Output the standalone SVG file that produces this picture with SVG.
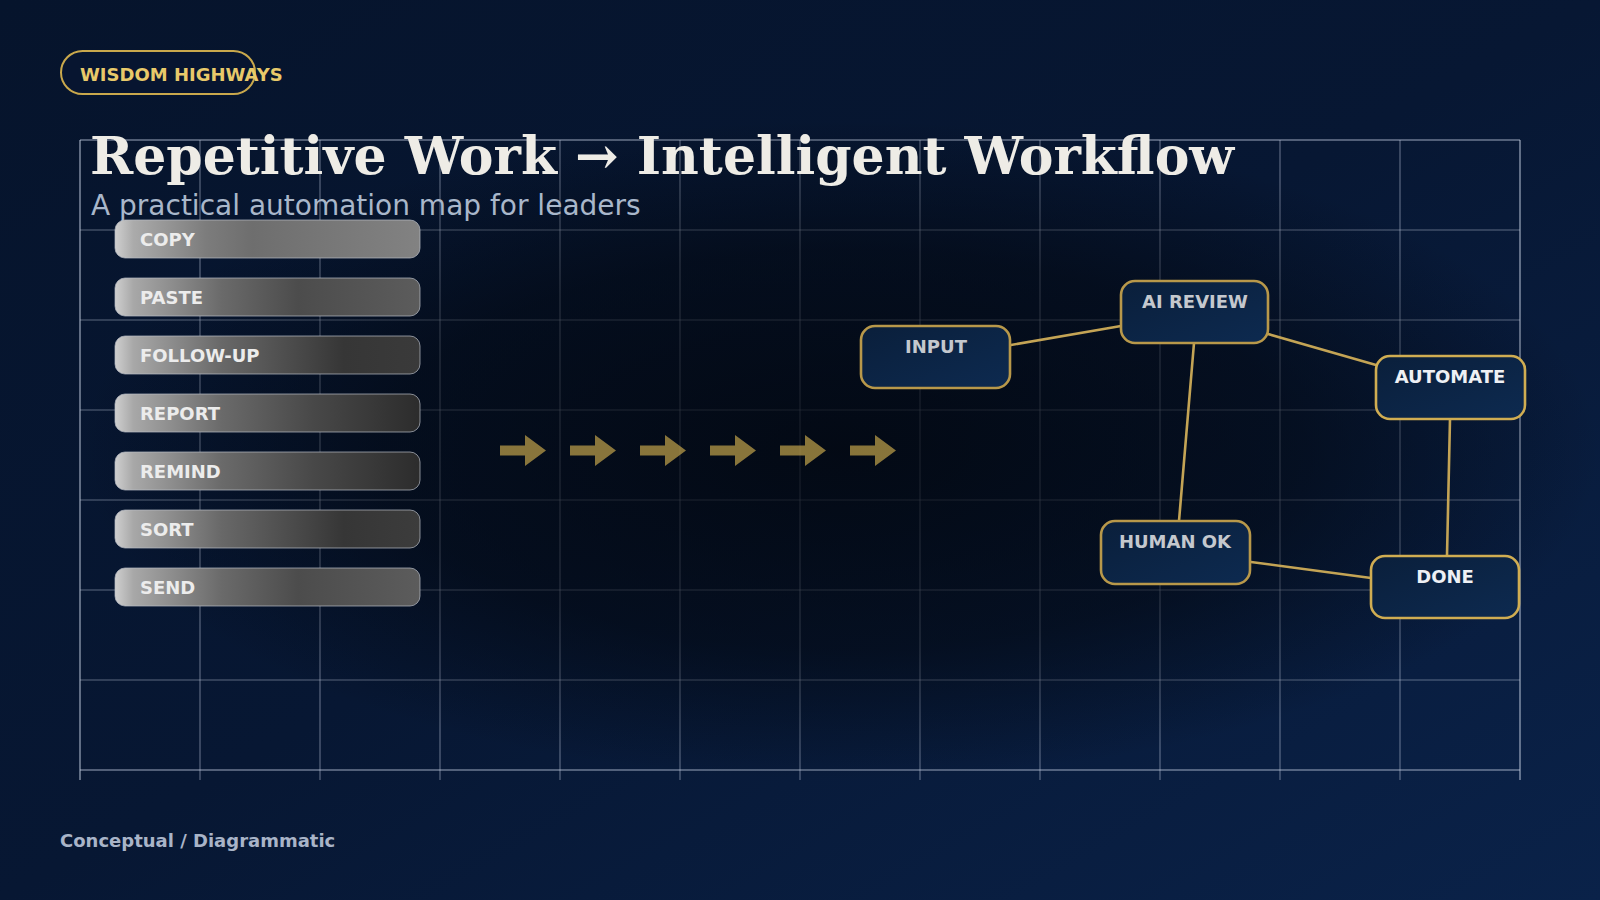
<svg xmlns="http://www.w3.org/2000/svg" width="1600" height="900" viewBox="0 0 1600 900">
<defs>
<linearGradient id="bg" x1="0" y1="0" x2="1" y2="1">
<stop offset="0" stop-color="#06142c"/>
<stop offset="0.5" stop-color="#071733"/>
<stop offset="1" stop-color="#0a2249"/>
</linearGradient>
<radialGradient id="vig" cx="0.5" cy="0.5" r="0.5">
<stop offset="0" stop-color="#02060d" stop-opacity="0.8"/>
<stop offset="0.6" stop-color="#02060d" stop-opacity="0.55"/>
<stop offset="1" stop-color="#02060d" stop-opacity="0"/>
</radialGradient>
<linearGradient id="nodeFill" x1="0" y1="0" x2="1" y2="1">
<stop offset="0" stop-color="#0a1f3b"/>
<stop offset="1" stop-color="#0d2a50"/>
</linearGradient>
<linearGradient id="g1" x1="0" y1="0" x2="1" y2="0"><stop offset="0" stop-color="#cfcfcf"/><stop offset="0.06" stop-color="#ababab"/><stop offset="0.3" stop-color="#7c7c7c"/><stop offset="0.45" stop-color="#6e6e6e"/><stop offset="1" stop-color="#828282"/></linearGradient>
<linearGradient id="g2" x1="0" y1="0" x2="1" y2="0"><stop offset="0" stop-color="#cfcfcf"/><stop offset="0.06" stop-color="#a8a8a8"/><stop offset="0.35" stop-color="#6a6a6a"/><stop offset="0.6" stop-color="#4c4c4c"/><stop offset="1" stop-color="#5c5c5c"/></linearGradient>
<linearGradient id="g3" x1="0" y1="0" x2="1" y2="0"><stop offset="0" stop-color="#cfcfcf"/><stop offset="0.06" stop-color="#a8a8a8"/><stop offset="0.35" stop-color="#686868"/><stop offset="0.75" stop-color="#363636"/><stop offset="1" stop-color="#3a3a3a"/></linearGradient>
<linearGradient id="g4" x1="0" y1="0" x2="1" y2="0"><stop offset="0" stop-color="#cfcfcf"/><stop offset="0.06" stop-color="#a8a8a8"/><stop offset="0.35" stop-color="#6a6a6a"/><stop offset="0.65" stop-color="#484848"/><stop offset="1" stop-color="#2c2c2c"/></linearGradient>
<linearGradient id="g6" x1="0" y1="0" x2="1" y2="0"><stop offset="0" stop-color="#cfcfcf"/><stop offset="0.06" stop-color="#a8a8a8"/><stop offset="0.35" stop-color="#686868"/><stop offset="0.75" stop-color="#363636"/><stop offset="1" stop-color="#3c3c3c"/></linearGradient>
<path id="arrow" d="M0,-5 L25,-5 L25,-15.5 L46,0 L25,15.5 L25,5 L0,5 Z"/>
</defs>
<style>
.grid line{stroke:#c3cde0;stroke-opacity:0.45;stroke-width:1.2}
.grid .edge{stroke-opacity:0.8}
.pill rect{stroke:#b8bcc4;stroke-opacity:0.7;stroke-width:1}
.pill text{font-family:"DejaVu Sans",sans-serif;font-weight:bold;font-size:18px;fill:#ececec}
.node rect{fill:url(#nodeFill);stroke:#b8984a;stroke-width:2.6}
.node.hi rect{stroke:#d0ad52}
.node text{font-family:"DejaVu Sans",sans-serif;font-weight:bold;font-size:18px;text-anchor:middle;fill:#c4c8ce}
.node.hi text{fill:#eef0f4}
.conn line{stroke:#c4a455;stroke-width:2.6;stroke-linecap:round}
.arr use{fill:#c9a84c;fill-opacity:0.68}
</style>
<rect width="1600" height="900" fill="url(#bg)"/>
<g class="grid">
<line class="edge" x1="80" y1="140" x2="1520" y2="140"/>
<line x1="80" y1="230" x2="1520" y2="230"/>
<line x1="80" y1="320" x2="1520" y2="320"/>
<line x1="80" y1="410" x2="1520" y2="410"/>
<line x1="80" y1="500" x2="1520" y2="500"/>
<line x1="80" y1="590" x2="1520" y2="590"/>
<line x1="80" y1="680" x2="1520" y2="680"/>
<line class="edge" x1="80" y1="770" x2="1520" y2="770"/>
<line class="edge" x1="80" y1="140" x2="80" y2="780"/>
<line x1="200" y1="140" x2="200" y2="780"/>
<line x1="320" y1="140" x2="320" y2="780"/>
<line x1="440" y1="140" x2="440" y2="780"/>
<line x1="560" y1="140" x2="560" y2="780"/>
<line x1="680" y1="140" x2="680" y2="780"/>
<line x1="800" y1="140" x2="800" y2="780"/>
<line x1="920" y1="140" x2="920" y2="780"/>
<line x1="1040" y1="140" x2="1040" y2="780"/>
<line x1="1160" y1="140" x2="1160" y2="780"/>
<line x1="1280" y1="140" x2="1280" y2="780"/>
<line x1="1400" y1="140" x2="1400" y2="780"/>
<line class="edge" x1="1520" y1="140" x2="1520" y2="780"/>
</g>
<ellipse cx="840" cy="450" rx="760" ry="330" fill="url(#vig)"/>
<g id="badge">
<rect x="61" y="51" width="194" height="43" rx="21.5" fill="#071530" stroke="#c9a84c" stroke-width="2"/>
<text x="80" y="81" font-family="DejaVu Sans, sans-serif" font-weight="bold" font-size="18" fill="#e8c96a">WISDOM HIGHWAYS</text>
</g>
<text x="90" y="174" font-family="DejaVu Serif, serif" font-weight="bold" font-size="52" fill="#eeece6">Repetitive Work → Intelligent Workflow</text>
<text x="91" y="215" font-family="DejaVu Sans, sans-serif" font-size="28" fill="#a9b7ca">A practical automation map for leaders</text>
<g class="pill" id="p-copy"><rect x="115" y="220" width="305" height="38" rx="10" fill="url(#g1)"/><text x="140" y="246">COPY</text></g>
<g class="pill" id="p-paste"><rect x="115" y="278" width="305" height="38" rx="10" fill="url(#g2)"/><text x="140" y="304">PASTE</text></g>
<g class="pill" id="p-follow"><rect x="115" y="336" width="305" height="38" rx="10" fill="url(#g3)"/><text x="140" y="362">FOLLOW-UP</text></g>
<g class="pill" id="p-report"><rect x="115" y="394" width="305" height="38" rx="10" fill="url(#g4)"/><text x="140" y="420">REPORT</text></g>
<g class="pill" id="p-remind"><rect x="115" y="452" width="305" height="38" rx="10" fill="url(#g4)"/><text x="140" y="478">REMIND</text></g>
<g class="pill" id="p-sort"><rect x="115" y="510" width="305" height="38" rx="10" fill="url(#g6)"/><text x="140" y="536">SORT</text></g>
<g class="pill" id="p-send"><rect x="115" y="568" width="305" height="38" rx="10" fill="url(#g2)"/><text x="140" y="594">SEND</text></g>
<g class="arr" id="arrows">
<use href="#arrow" x="500" y="450.5"/>
<use href="#arrow" x="570" y="450.5"/>
<use href="#arrow" x="640" y="450.5"/>
<use href="#arrow" x="710" y="450.5"/>
<use href="#arrow" x="780" y="450.5"/>
<use href="#arrow" x="850" y="450.5"/>
</g>
<g class="conn" id="connectors">
<line x1="1011" y1="345" x2="1121" y2="326" stroke="#b39850"/>
<line x1="1194" y1="343" x2="1179" y2="521" stroke="#a08c55"/>
<line x1="1268" y1="334" x2="1376" y2="365" stroke="#c8aa5a"/>
<line x1="1450" y1="419" x2="1447" y2="556" stroke="#e2c163" stroke-width="3.6"/>
<line x1="1251" y1="562" x2="1371" y2="578" stroke="#c6a658"/>
</g>
<g class="node" id="n-input"><rect x="861" y="326" width="149" height="62" rx="14"/><text x="936" y="353">INPUT</text></g>
<g class="node" id="n-ai"><rect x="1121" y="281" width="147" height="62" rx="14"/><text x="1195" y="308">AI REVIEW</text></g>
<g class="node hi" id="n-automate"><rect x="1376" y="356" width="149" height="63" rx="14"/><text x="1450" y="383">AUTOMATE</text></g>
<g class="node" id="n-human"><rect x="1101" y="521" width="149" height="63" rx="14"/><text x="1175" y="548">HUMAN OK</text></g>
<g class="node hi" id="n-done"><rect x="1371" y="556" width="148" height="62" rx="14"/><text x="1445" y="583">DONE</text></g>
<text x="60" y="847" font-family="DejaVu Sans, sans-serif" font-weight="bold" font-size="18" fill="#a9b4c8">Conceptual / Diagrammatic</text>
</svg>
